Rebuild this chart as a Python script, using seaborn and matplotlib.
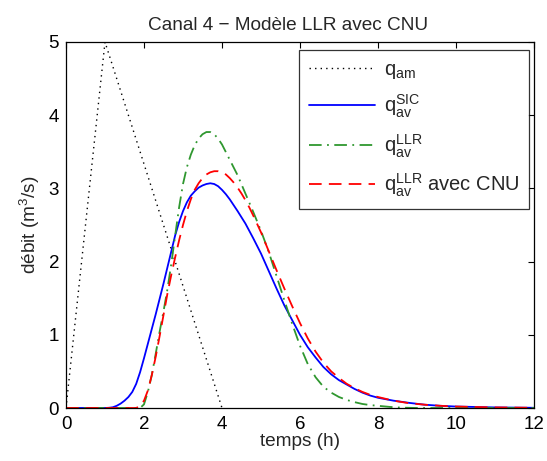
import matplotlib
matplotlib.use("Agg")
import matplotlib.pyplot as plt
import seaborn as sns
import pandas as pd

# ---- data ----
t_am = [0, 1, 4]
q_am = [0, 5, 0]

t_sic = [0, 1.0, 1.1, 1.2, 1.3, 1.4, 1.5, 1.6, 1.7, 1.8, 1.9, 2.0, 2.1, 2.2, 2.3, 2.4, 2.5,
         2.6, 2.7, 2.8, 2.9, 3.0, 3.1, 3.2, 3.3, 3.4, 3.5, 3.6, 3.7, 3.8, 3.9, 4.0, 4.1,
         4.2, 4.4, 4.6, 4.8, 5.0, 5.2, 5.4, 5.6, 5.8, 6.0, 6.2, 6.4, 6.6, 6.8, 7.0, 7.2,
         7.4, 7.6, 7.8, 8.0, 8.4, 8.8, 9.2, 9.6, 10, 11, 12]
q_sic = [0, 0, 0.003, 0.01, 0.03, 0.06, 0.10, 0.15, 0.22, 0.33, 0.49, 0.68, 0.88, 1.08, 1.28, 1.49, 1.70,
         1.92, 2.14, 2.36, 2.54, 2.69, 2.81, 2.90, 2.96, 3.01, 3.04, 3.06, 3.07, 3.06, 3.03, 2.98, 2.92,
         2.85, 2.69, 2.52, 2.32, 2.11, 1.87, 1.63, 1.40, 1.20, 1.00, 0.83, 0.69, 0.56, 0.46, 0.38, 0.32,
         0.26, 0.21, 0.17, 0.14, 0.10, 0.07, 0.045, 0.03, 0.02, 0.008, 0.003]

t_llr = [0, 1.9, 2.0, 2.1, 2.2, 2.3, 2.4, 2.5, 2.6, 2.7, 2.8, 2.9, 3.0, 3.1, 3.2, 3.3, 3.4,
         3.5, 3.6, 3.7, 3.8, 3.9, 4.0, 4.2, 4.4, 4.6, 4.8, 5.0, 5.2, 5.4, 5.6, 5.8, 6.0,
         6.2, 6.4, 6.6, 6.8, 7.0, 7.2, 7.4, 7.6, 7.8, 8.0, 8.3, 8.6, 9.0, 12]
q_llr = [0, 0, 0.05, 0.22, 0.45, 0.74, 1.04, 1.32, 1.62, 1.97, 2.36, 2.74, 3.06, 3.29, 3.46, 3.59, 3.68,
         3.74, 3.77, 3.77, 3.74, 3.68, 3.60, 3.39, 3.18, 2.93, 2.68, 2.42, 2.13, 1.80, 1.47, 1.15, 0.85,
         0.60, 0.42, 0.29, 0.21, 0.15, 0.11, 0.08, 0.055, 0.04, 0.03, 0.015, 0.005, 0, 0]

t_cnu = [0, 1.8, 1.9, 2.0, 2.1, 2.2, 2.3, 2.4, 2.5, 2.6, 2.7, 2.8, 2.9, 3.0, 3.1, 3.2, 3.3,
         3.4, 3.5, 3.6, 3.7, 3.8, 3.9, 4.0, 4.1, 4.2, 4.3, 4.4, 4.5, 4.6, 4.7, 4.8, 5.0,
         5.2, 5.4, 5.6, 5.8, 6.0, 6.2, 6.4, 6.6, 6.8, 7.0, 7.2, 7.4, 7.6, 7.8, 8.0, 8.4,
         8.8, 9.2, 9.6, 10, 11, 12]
q_cnu = [0, 0, 0.03, 0.10, 0.24, 0.45, 0.70, 0.98, 1.27, 1.56, 1.82, 2.06, 2.29, 2.50, 2.69, 2.85, 2.98,
         3.07, 3.14, 3.19, 3.22, 3.235, 3.235, 3.22, 3.19, 3.14, 3.08, 3.01, 2.93, 2.84, 2.74, 2.63, 2.40,
         2.14, 1.88, 1.63, 1.39, 1.16, 0.95, 0.77, 0.62, 0.50, 0.41, 0.33, 0.27, 0.22, 0.18, 0.15, 0.10,
         0.065, 0.045, 0.03, 0.02, 0.008, 0.003]

labels = [r"$\mathregular{q_{am}}$",
          r"$\mathregular{q_{av}^{SIC}}$",
          r"$\mathregular{q_{av}^{LLR}}$",
          r"$\mathregular{q_{av}^{LLR}}$ avec CNU"]
x_ticks = [0, 2, 4, 6, 8, 10, 12]
y_ticks = [0, 1, 2, 3, 4, 5]

# ---- style ----
sns.set_style("white")
plt.rcParams['font.family'] = ['Liberation Sans', 'DejaVu Sans']
plt.rcParams['mathtext.fontset'] = 'custom'
plt.rcParams['mathtext.rm'] = 'Liberation Sans'
plt.rcParams['mathtext.it'] = 'Liberation Sans:italic'

fig = plt.figure(figsize=(5.47, 4.61), dpi=100)
ax = fig.add_axes([66/547, 1-408/461, (534-66)/547, (408-42)/461])

series = [
    (t_am, q_am, labels[0], 'black', (0, (1, 3)), 1.0),
    (t_sic, q_sic, labels[1], 'blue', '-', 1.3),
    (t_llr, q_llr, labels[2], '#2f972f', (0, (7, 3, 1, 3)), 1.3),
    (t_cnu, q_cnu, labels[3], 'red', (0, (7, 4)), 1.3),
]
for t, q, lab, col, ls, lw in series:
    df = pd.DataFrame({'t': t, 'q': q})
    sns.lineplot(data=df, x='t', y='q', ax=ax, color=col, linestyle=ls,
                 linewidth=lw, label=lab, estimator=None, sort=False)

ax.set_xlim(0, 12)
ax.set_ylim(0, 5)
ax.set_xticks(x_ticks)
ax.set_yticks(y_ticks)
ax.tick_params(direction='in', length=4, width=0.8, top=True, right=True,
               labelsize=13.5, colors='black')
ax.tick_params(axis='x', pad=6)
ax.tick_params(axis='y', pad=5)
for s in ax.spines.values():
    s.set_color('black')
    s.set_linewidth(0.9)

ax.set_title("Canal 4 − Modèle LLR avec CNU", fontsize=13.7, pad=9, x=0.475)
ax.set_xlabel("temps (h)", fontsize=13.7, labelpad=0)
ax.set_ylabel(r"débit (m$^3$/s)", fontsize=13.7, labelpad=5)

leg = ax.legend(loc='upper right', bbox_to_anchor=(0.998, 0.99), fontsize=14.5,
                frameon=True, fancybox=False, handlelength=3.3, handletextpad=0.4,
                labelspacing=0.6, borderpad=0.5, borderaxespad=0.2)
leg.get_frame().set_edgecolor('black')
leg.get_frame().set_linewidth(0.9)

fig.savefig("out.png", dpi=100, facecolor='white')
